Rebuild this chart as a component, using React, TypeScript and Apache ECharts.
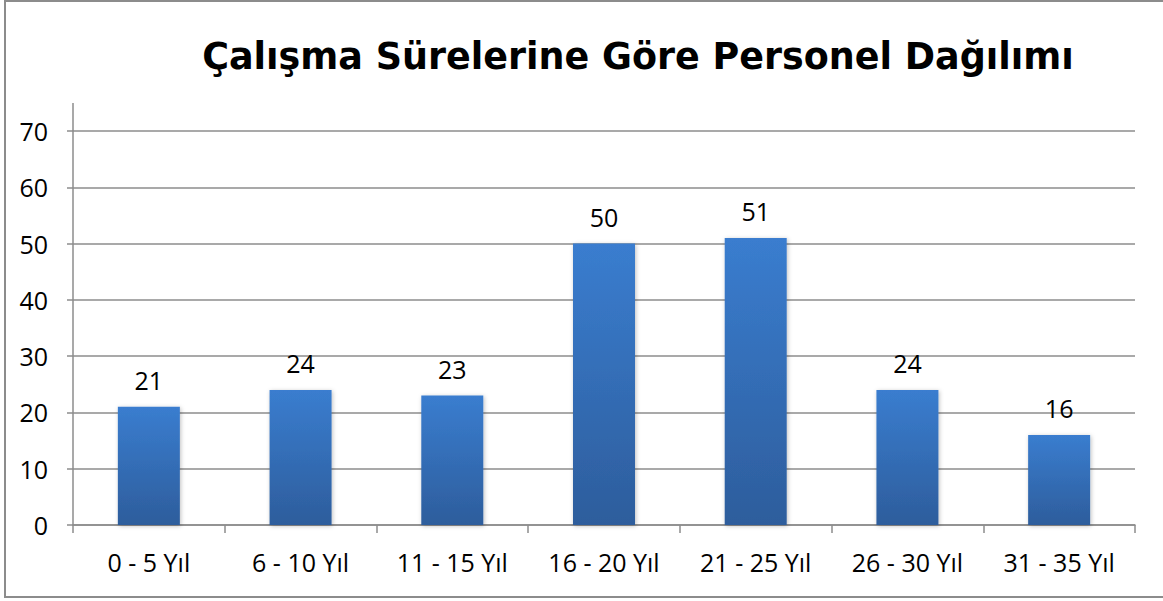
import React, { useEffect, useRef } from "react";
import * as echarts from "echarts";

const TITLE = "Çalışma Sürelerine Göre Personel Dağılımı";
const categories = ["0 - 5 Yıl", "6 - 10 Yıl", "11 - 15 Yıl", "16 - 20 Yıl", "21 - 25 Yıl", "26 - 30 Yıl", "31 - 35 Yıl"];
const values = [21, 24, 23, 50, 51, 24, 16];
const yMin = 0;
const yMax = 70;
const yInterval = 10;

export default function App() {
  const ref = useRef<HTMLDivElement>(null);
  useEffect(() => {
    if (!ref.current) return;
    const chart = echarts.init(ref.current, null, { renderer: "svg" });
    const font = "'Open Sans', sans-serif";
    chart.setOption({
      animation: false,
      backgroundColor: "#ffffff",
      title: {
        text: TITLE,
        left: 633,
        top: 33,
        textAlign: "center",
        textStyle: { fontFamily: "'DejaVu Sans', sans-serif", fontWeight: "bold", fontSize: 36.5, color: "#000" },
      },
      graphic: [
        { type: "rect", shape: { x: 5, y: 1, width: 1170, height: 596 }, style: { fill: "none", stroke: "#8c8c8c", lineWidth: 2 }, silent: true },
        { type: "line", shape: { x1: 73, y1: 103, x2: 73, y2: 131 }, style: { stroke: "#8c8c8c", lineWidth: 1.5 }, silent: true },
      ],
      grid: { left: 73, right: 28, top: 131, bottom: 76, containLabel: false },
      xAxis: {
        type: "category",
        data: categories,
        axisLine: { show: true, lineStyle: { color: "#8c8c8c", width: 1.5 } },
        axisTick: { show: true, length: 8, alignWithLabel: false, lineStyle: { color: "#8c8c8c", width: 1.5 } },
        axisLabel: { color: "#000", fontSize: 25, fontFamily: font, margin: 24, interval: 0 },
      },
      yAxis: {
        type: "value",
        min: yMin,
        max: yMax,
        interval: yInterval,
        axisLine: { show: true, lineStyle: { color: "#8c8c8c", width: 1.5 } },
        axisTick: { show: true, length: 6, lineStyle: { color: "#8c8c8c", width: 1.5 } },
        splitLine: { show: true, lineStyle: { color: "#8c8c8c", width: 1.5 } },
        axisLabel: { color: "#000", fontSize: 25, fontFamily: font, margin: 25 },
      },
      series: [
        {
          type: "bar",
          data: values,
          barWidth: 62,
          itemStyle: {
            color: new echarts.graphic.LinearGradient(0, 0, 0, 1, [
              { offset: 0, color: "#3a7dcf" },
              { offset: 1, color: "#2d5d9c" },
            ]),
            shadowColor: "rgba(0,0,0,0.25)",
            shadowBlur: 4,
            shadowOffsetX: 1,
            shadowOffsetY: 1,
          },
          label: { show: true, position: "top", distance: 14, color: "#000", fontSize: 25, fontFamily: font },
        },
      ],
    });
    return () => chart.dispose();
  }, []);
  return <div ref={ref} style={{ position: "fixed", left: 0, top: 0, width: 1163, height: 601 }} />;
}
